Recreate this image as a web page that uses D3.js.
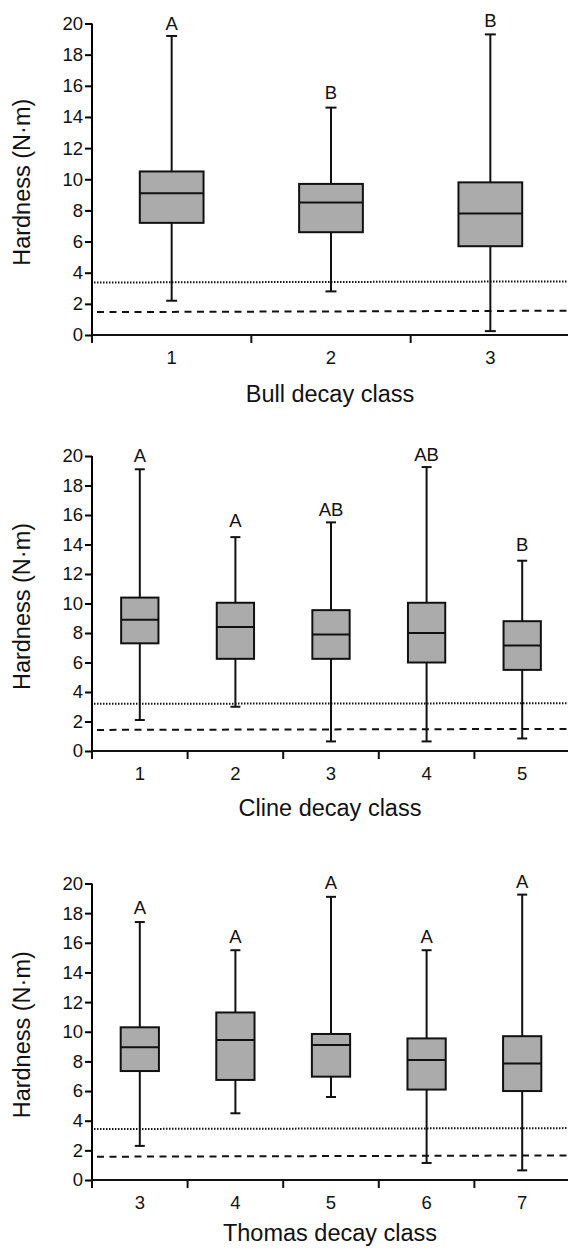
<!DOCTYPE html>
<html>
<head>
<meta charset="utf-8">
<script src="https://cdn.jsdelivr.net/npm/d3@7"></script>
<style>
  body { margin: 0; background: #fff; }
  text { font-family: "Liberation Sans", Arial, sans-serif; fill: #111; }
</style>
</head>
<body>
<svg id="chart" width="568" height="1250"></svg>
<script>
  // Box stats per class: [lower whisker, Q1, median, Q3, upper whisker]
  const bullClasses = ["1", "2", "3"],
        bullStats = [[2.2, 7.2, 9.1, 10.5, 19.2],
                     [2.8, 6.6, 8.5, 9.7, 14.6],
                     [0.25, 5.7, 7.8, 9.8, 19.3]],
        bullLetters = ["A", "B", "B"],
        bullLetterY = [20.0, 15.6, 20.2];

  const clineClasses = ["1", "2", "3", "4", "5"],
        clineStats = [[2.1, 7.3, 8.9, 10.4, 19.1],
                      [3.0, 6.25, 8.4, 10.05, 14.5],
                      [0.65, 6.25, 7.9, 9.55, 15.5],
                      [0.65, 6.0, 8.0, 10.05, 19.25],
                      [0.85, 5.5, 7.15, 8.8, 12.9]],
        clineLetters = ["A", "A", "AB", "AB", "B"],
        clineLetterY = [20.05, 15.65, 16.4, 20.1, 14.0];

  const thomasClasses = ["3", "4", "5", "6", "7"],
        thomasStats = [[2.3, 7.35, 8.95, 10.3, 17.4],
                       [4.5, 6.75, 9.45, 11.3, 15.5],
                       [5.6, 6.97, 9.1, 9.85, 19.1],
                       [1.15, 6.1, 8.1, 9.55, 15.5],
                       [0.65, 6.0, 7.85, 9.7, 19.25]],
        thomasLetters = ["A", "A", "A", "A", "A"],
        thomasLetterY = [18.35, 16.45, 20.1, 16.45, 20.15];

  // Reference lines: [value at left, value at right]
  const bullDotted = [3.37, 3.44], bullDashed = [1.47, 1.56],
        clineDotted = [3.2, 3.24], clineDashed = [1.43, 1.5],
        thomasDotted = [3.44, 3.5], thomasDashed = [1.57, 1.66];

  const yTicks = [0, 2, 4, 6, 8, 10, 12, 14, 16, 18, 20];

  const svg = d3.select("#chart");
  const left = 92, right = 570;

  function drawPanel(p) {
    let x = d3.scaleBand()
              .domain(p.classes)
              .range([left, right]);

    let y = d3.scaleLinear()
              .domain([0, 20])
              .range([p.bottom, p.top]);

    let g = svg.append("g");

    // reference lines
    g.append("line")
     .attr("x1", left + 2).attr("x2", right)
     .attr("y1", y(p.dotted[0])).attr("y2", y(p.dotted[1]))
     .attr("stroke", "#111")
     .attr("stroke-width", 2)
     .attr("stroke-dasharray", "1.5,1.5");

    g.append("line")
     .attr("x1", left + 5).attr("x2", right)
     .attr("y1", y(p.dashed[0])).attr("y2", y(p.dashed[1]))
     .attr("stroke", "#111")
     .attr("stroke-width", 2)
     .attr("stroke-dasharray", "7,5.5");

    // y axis
    g.append("g")
     .attr("transform", "translate(" + left + ",0)")
     .call(d3.axisLeft(y).tickValues(yTicks).tickSize(7).tickPadding(2))
     .call(a => a.select(".domain").attr("stroke-width", 2).attr("d", "M0," + (p.bottom + 7) + "V" + p.top))
     .call(a => a.selectAll(".tick line").attr("stroke-width", 2))
     .call(a => a.selectAll(".tick text").attr("font-size", 18.5).attr("font-family", "Liberation Sans, Arial, sans-serif").attr("fill", "#111"));

    // x axis with ticks on band boundaries
    g.append("line")
     .attr("x1", left).attr("x2", right)
     .attr("y1", p.bottom).attr("y2", p.bottom)
     .attr("stroke", "#111").attr("stroke-width", 2);

    let bounds = p.classes.map(d => x(d)).concat([x.range()[1]]);
    g.selectAll(".xtick")
     .data(bounds)
     .enter()
     .append("line")
     .attr("x1", d => d).attr("x2", d => d)
     .attr("y1", p.bottom).attr("y2", p.bottom + 8)
     .attr("stroke", "#111").attr("stroke-width", 2);

    g.selectAll(".xlab")
     .data(p.classes)
     .enter()
     .append("text")
     .attr("x", d => x(d) + x.bandwidth() / 2)
     .attr("y", p.bottom + 29)
     .attr("text-anchor", "middle")
     .attr("font-size", 18.5)
     .text(d => d);

    // axis titles
    g.append("text")
     .attr("x", (left + right) / 2 - 1)
     .attr("y", p.bottom + p.titleGap)
     .attr("text-anchor", "middle")
     .attr("font-size", 23.5)
     .text(p.title);

    g.append("text")
     .attr("transform", "translate(30," + ((p.top + p.bottom) / 2 + 3) + ") rotate(-90)")
     .attr("text-anchor", "middle")
     .attr("font-size", 23.5)
     .text("Hardness (N\u00b7m)");

    // boxes
    let bw = x.bandwidth() * p.boxFrac,
        cap = p.cap;

    let boxes = g.selectAll(".box")
                 .data(p.stats)
                 .enter()
                 .append("g")
                 .attr("transform", (d, i) => "translate(" + (x(p.classes[i]) + x.bandwidth() / 2) + ",0)");

    boxes.append("line")
         .attr("x1", 0).attr("x2", 0)
         .attr("y1", d => y(d[0])).attr("y2", d => y(d[4]))
         .attr("stroke", "#111").attr("stroke-width", 2);

    boxes.append("line")
         .attr("x1", -cap / 2).attr("x2", cap / 2)
         .attr("y1", d => y(d[0])).attr("y2", d => y(d[0]))
         .attr("stroke", "#111").attr("stroke-width", 2);

    boxes.append("line")
         .attr("x1", -cap / 2).attr("x2", cap / 2)
         .attr("y1", d => y(d[4])).attr("y2", d => y(d[4]))
         .attr("stroke", "#111").attr("stroke-width", 2);

    boxes.append("rect")
         .attr("x", -bw / 2)
         .attr("width", bw)
         .attr("y", d => y(d[3]))
         .attr("height", d => y(d[1]) - y(d[3]))
         .attr("fill", "#ababab")
         .attr("stroke", "#111")
         .attr("stroke-width", 2);

    boxes.append("line")
         .attr("x1", -bw / 2).attr("x2", bw / 2)
         .attr("y1", d => y(d[2])).attr("y2", d => y(d[2]))
         .attr("stroke", "#111").attr("stroke-width", 2);

    boxes.append("text")
         .attr("x", 0)
         .attr("y", (d, i) => y(p.letterY[i]) + 6.5)
         .attr("text-anchor", "middle")
         .attr("font-size", 18.5)
         .text((d, i) => p.letters[i]);
  }

  drawPanel({classes: bullClasses, stats: bullStats, letters: bullLetters, letterY: bullLetterY,
             dotted: bullDotted, dashed: bullDashed, top: 23.5, bottom: 335, titleGap: 67,
             title: "Bull decay class", boxFrac: 0.4, cap: 11});

  drawPanel({classes: clineClasses, stats: clineStats, letters: clineLetters, letterY: clineLetterY,
             dotted: clineDotted, dashed: clineDashed, top: 456, bottom: 751, titleGap: 65,
             title: "Cline decay class", boxFrac: 0.39, cap: 10});

  drawPanel({classes: thomasClasses, stats: thomasStats, letters: thomasLetters, letterY: thomasLetterY,
             dotted: thomasDotted, dashed: thomasDashed, top: 883.5, bottom: 1180, titleGap: 61,
             title: "Thomas decay class", boxFrac: 0.4, cap: 10});
</script>
</body>
</html>
